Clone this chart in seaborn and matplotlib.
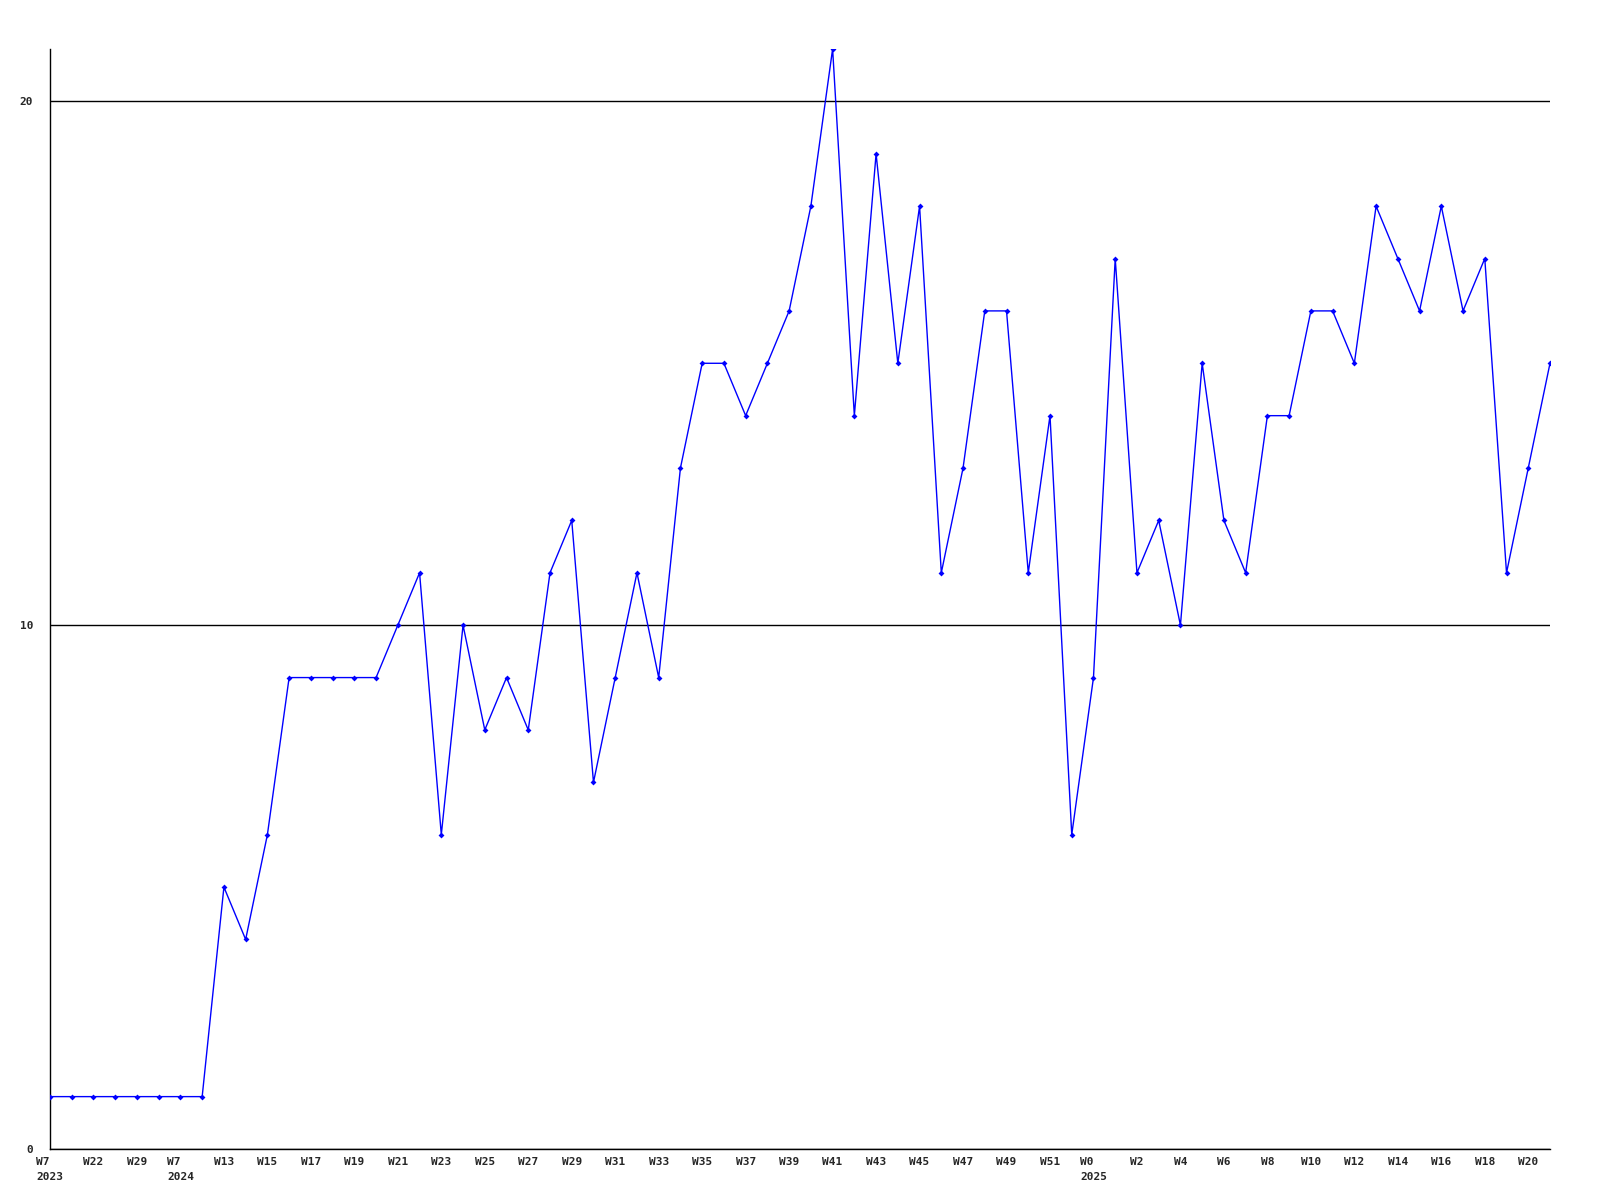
import pandas as pd
import seaborn as sns
import matplotlib.pyplot as plt

# weekly counts, one per point from W7 2023 to W21 2025
week_labels = ["W7\n2023", "", "W22", "", "W29", "", "W7\n2024", "W12",
               "W13", "W14", "W15", "W16", "W17", "W18", "W19", "W20",
               "W21", "W22", "W23", "W24", "W25", "W26", "W27", "W28",
               "W29", "W30", "W31", "W32", "W33", "W34", "W35", "W36",
               "W37", "W38", "W39", "W40", "W41", "W42", "W43", "W44",
               "W45", "W46", "W47", "W48", "W49", "W50", "W51", "W52",
               "W0\n2025", "W1", "W2", "W3", "W4", "W5", "W6", "W7",
               "W8", "W9", "W10", "W11", "W12", "W13", "W14", "W15",
               "W16", "W17", "W18", "W19", "W20", "W21"]
counts = [1, 1, 1, 1, 1, 1, 1, 1,
          5, 4, 6, 9, 9, 9, 9, 9,
          10, 11, 6, 10, 8, 9, 8, 11,
          12, 7, 9, 11, 9, 13, 15, 15,
          14, 15, 16, 18, 21, 14, 19, 15,
          18, 11, 13, 16, 16, 11, 14, 6,
          9, 17, 11, 12, 10, 15, 12, 11,
          14, 14, 16, 16, 15, 18, 17, 16,
          18, 16, 17, 11, 13, 15]
y_ticks = [0, 10, 20]

df = pd.DataFrame({"pos": range(len(counts)), "count": counts})

sns.set_style("white")
plt.rcParams["font.family"] = ["DejaVu Sans Mono"]

fig = plt.figure(figsize=(16, 12), dpi=100)
ax = fig.add_axes([50 / 1600, 1 - 1149 / 1200, 1500 / 1600, 1100 / 1200])

sns.lineplot(data=df, x="pos", y="count", ax=ax, color="#0000ff", linewidth=1,
             marker="D", markersize=3, markeredgewidth=0, zorder=3)

ax.set_xlim(0, len(counts) - 1)
ax.set_ylim(0, 21)
ax.set_yticks(y_ticks)
ax.set_yticklabels([str(v) for v in y_ticks], fontsize=8, fontweight="bold")
ax.yaxis.grid(True, color="black", linewidth=1)
ax.xaxis.grid(False)

ticks = list(range(0, len(counts), 2))
ax.set_xticks(ticks)
ax.set_xticklabels([week_labels[i] for i in ticks], fontsize=8,
                   fontweight="bold", ha="center", multialignment="left",
                   linespacing=1.6)

ax.tick_params(axis="both", length=0)
ax.tick_params(axis="x", pad=6)
ax.tick_params(axis="y", pad=12)
for side in ["top", "right"]:
    ax.spines[side].set_visible(False)
for side in ["left", "bottom"]:
    ax.spines[side].set_color("black")
    ax.spines[side].set_linewidth(1)
ax.set_xlabel("")
ax.set_ylabel("")

fig.savefig("out.png", dpi=100, facecolor="white")
